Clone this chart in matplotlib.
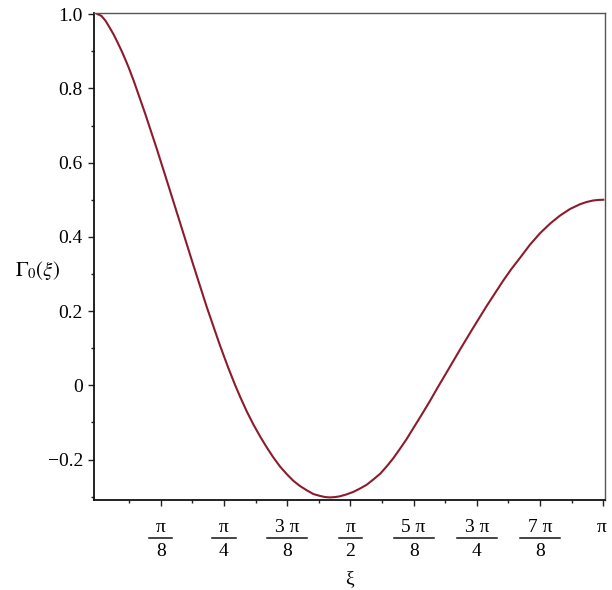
import numpy as np
import matplotlib
matplotlib.use("Agg")
import matplotlib.pyplot as plt

# curve, xi given in units of pi
xi_over_pi = [0.000, 0.004, 0.008, 0.016, 0.024, 0.032, 0.040, 0.048, 0.055, 0.062,
              0.072, 0.083, 0.094, 0.117, 0.140, 0.163, 0.189, 0.216, 0.242, 0.258,
              0.272, 0.282, 0.295, 0.308, 0.322, 0.335, 0.348, 0.361, 0.374, 0.387,
              0.400, 0.414, 0.427, 0.440, 0.450, 0.460, 0.470, 0.479, 0.492, 0.506,
              0.519, 0.532, 0.545, 0.559, 0.572, 0.585, 0.598, 0.611, 0.625, 0.640,
              0.656, 0.672, 0.695, 0.717, 0.740, 0.769, 0.802, 0.818, 0.835, 0.855,
              0.875, 0.895, 0.914, 0.934, 0.954, 0.967, 0.980, 0.990, 1.000]
gamma0 = [1.000, 0.998, 0.995, 0.982, 0.964, 0.945, 0.923, 0.900, 0.878, 0.855,
          0.819, 0.776, 0.733, 0.638, 0.539, 0.439, 0.326, 0.211, 0.108, 0.049,
          0.001, -0.031, -0.070, -0.105, -0.139, -0.168, -0.195, -0.219, -0.239, -0.257,
          -0.271, -0.283, -0.293, -0.298, -0.301, -0.302, -0.301, -0.299, -0.294, -0.287,
          -0.278, -0.268, -0.254, -0.238, -0.218, -0.196, -0.171, -0.145, -0.114, -0.081,
          -0.045, -0.007, 0.046, 0.097, 0.149, 0.213, 0.282, 0.313, 0.343, 0.379,
          0.410, 0.436, 0.457, 0.475, 0.488, 0.494, 0.498, 0.4995, 0.500]

xtick_eighths = [1, 2, 3, 4, 5, 6, 7]
xtick_num = ['\u03c0', '\u03c0', '3 \u03c0', '\u03c0', '5 \u03c0', '3 \u03c0', '7 \u03c0']
xtick_den = ['8', '4', '8', '2', '8', '4', '8']
ytick_vals = [-0.2, 0, 0.2, 0.4, 0.6, 0.8, 1.0]
ytick_labels = ['\u22120.2', '0', '0.2', '0.4', '0.6', '0.8', '1.0']

plt.rcParams['font.family'] = ['Liberation Serif', 'DejaVu Serif']
plt.rcParams['mathtext.fontset'] = 'stix'

fig = plt.figure(figsize=(6.12, 5.90), dpi=100)
ax = fig.add_axes([0.1536, 0.1525, 0.8355, 0.826])

xi = np.array(xi_over_pi) * np.pi
ax.plot(xi, gamma0, color='#8c1c2c', lw=1.5, solid_joinstyle='round')

ax.set_xlim(-0.0217, 3.154)
ax.set_ylim(-0.309, 1.004)

ax.set_xticks([k * np.pi / 8 for k in xtick_eighths + [8]])
ax.set_xticklabels([])
ax.set_xticks([(k - 0.5) * np.pi / 8 for k in xtick_eighths + [8]], minor=True)
ax.set_yticks(ytick_vals)
ax.set_yticklabels(ytick_labels, fontsize=14)
ax.set_yticks([-0.3, -0.1, 0.1, 0.3, 0.5, 0.7, 0.9], minor=True)

ax.tick_params(axis='both', which='major', direction='out', length=4, width=1, color='#222222')
ax.tick_params(axis='both', which='minor', direction='out', length=2.5, width=1, color='#222222')
ax.tick_params(axis='y', which='major', pad=4)

# Maple style stacked fraction labels under the x axis
tr = ax.get_xaxis_transform()
for k, num, den in zip(xtick_eighths, xtick_num, xtick_den):
    xc = k * np.pi / 8
    half = 0.072 if len(num) == 1 else 0.125
    ax.text(xc, -0.0554, num, transform=tr, ha='center', va='center', fontsize=14)
    ax.plot([xc - half, xc + half], [-0.078, -0.078], transform=tr, color='#111111',
            lw=1.1, clip_on=False)
    ax.text(xc, -0.106, den, transform=tr, ha='center', va='center', fontsize=14)
ax.text(np.pi - 0.012, -0.0554, '\u03c0', transform=tr, ha='center', va='center', fontsize=14)

ax.spines['left'].set_color('#111111')
ax.spines['bottom'].set_color('#111111')
ax.spines['left'].set_linewidth(1.3)
ax.spines['bottom'].set_linewidth(1.3)
ax.spines['top'].set_color('#555555')
ax.spines['right'].set_color('#555555')
ax.spines['top'].set_linewidth(1.0)
ax.spines['right'].set_linewidth(1.0)

fig.text(0.5703, 1 - 579 / 590, '\u03be', fontsize=14, ha='center', va='center')
fig.text(0.062, 0.542, r'$\Gamma_0(\xi)$', fontsize=15, ha='center', va='center')

fig.savefig('out.png', dpi=100)
